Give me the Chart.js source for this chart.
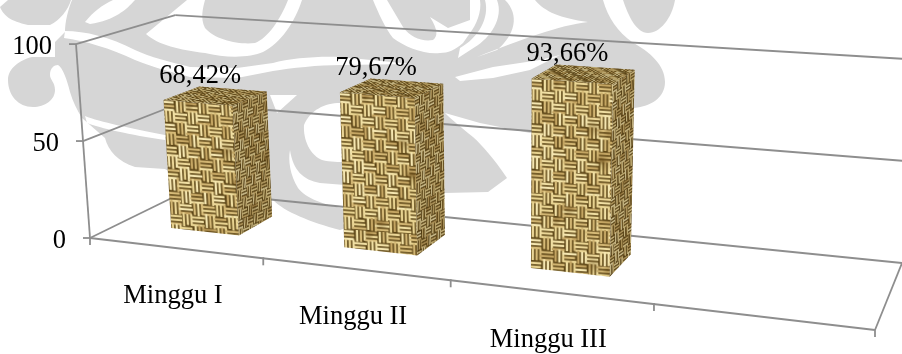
<!DOCTYPE html>
<html>
<head>
<meta charset="utf-8">
<style>html,body{margin:0;padding:0;background:#fff}canvas{display:block}</style>
<script src="https://cdn.jsdelivr.net/npm/chart.js@4"></script>
</head>
<body>
<canvas id="c" width="902" height="354"></canvas>
<script>
// Chart content
const categories = ['Minggu I', 'Minggu II', 'Minggu III', ''];
const percentages = [68.42, 79.67, 93.66, null];
const valueTexts = ['68,42%', '79,67%', '93,66%'];
const yTicks = [0, 50, 100];

// Floor of the tilted box: front-left, front-right, back-right, back-left
const floorCorners = [[90, 238], [875, 330], [902, 263], [186, 191]];
const barDepth = [0.31, 0.69];

const INK = '#000';
const GRID = '#8e8e8e';
const MARK_GRAY = '#d6d6d6';
const SERIF = '"Liberation Serif","Times New Roman",serif';

// Homography from the unit square onto a quadrilateral (p00, p10, p11, p01)
function quadMap(q) {
  const [[x0, y0], [x1, y1], [x2, y2], [x3, y3]] = q;
  const dx1 = x1 - x2, dx2 = x3 - x2, sx = x0 - x1 + x2 - x3;
  const dy1 = y1 - y2, dy2 = y3 - y2, sy = y0 - y1 + y2 - y3;
  const det = dx1 * dy2 - dx2 * dy1;
  const g = (sx * dy2 - dx2 * sy) / det, h = (dx1 * sy - sx * dy1) / det;
  const a = x1 - x0 + g * x1, b = x3 - x0 + h * x3, d = y1 - y0 + g * y1, e = y3 - y0 + h * y3;
  return (u, v) => {
    const w = g * u + h * v + 1;
    return [(a * u + b * v + x0) / w, (d * u + e * v + y0) / w];
  };
}
const floorAt = quadMap(floorCorners);

// Scale pixels -> position in the tilted box. depth 0 = front, 1 = back wall.
// Verticals grow with how near the floor point is and fan out from left to right.
function project(chart, px, py, depth) {
  const a = chart.chartArea;
  const u0 = (px - a.left) / (a.right - a.left);
  const u = u0 + 0.045 * u0 * (1 - u0);
  const t = (a.bottom - py) / (a.bottom - a.top);
  const f = floorAt(u, depth);
  const rise = 103 + 0.382 * f[1] - 14 * depth * (1 - depth);
  const lean = -14 + 0.0336 * (f[0] - 90);
  return [f[0] + lean * t, f[1] - rise * t];
}

function segment(ctx, p, q) {
  ctx.beginPath();
  ctx.moveTo(p[0], p[1]);
  ctx.lineTo(q[0], q[1]);
  ctx.stroke();
}

// Repeatable grain for the weave, fixed per strand position
function grain(i, j) {
  const s = Math.sin(i * 12.9898 + j * 78.233) * 43758.5453;
  return s - Math.floor(s);
}

// Woven sacking tile: tight strands in alternating basket blocks, softened afterwards
function wovenTile() {
  const S = 144, block = 12, pitch = 4;
  const raw = document.createElement('canvas');
  raw.width = raw.height = S;
  const g = raw.getContext('2d');
  g.fillStyle = '#5a4416';
  g.fillRect(0, 0, S, S);
  const tones = ['#fdf0bb', '#f3dfa0', '#dcc17e', '#f8e8ad', '#c9aa68', '#eeda98', '#d6ba78'];
  for (let bj = 0; bj < S / block; bj++) {
    for (let bi = 0; bi < S / block; bi++) {
      const horizontal = (bi + bj) % 2 === 0;
      const ox = bi * block, oy = bj * block;
      for (let k = 0; k < block / pitch; k++) {
        g.fillStyle = tones[Math.floor(grain(bi * 3 + k, bj) * tones.length)];
        const trim = 1 + 2 * grain(bi, bj + k);
        if (horizontal) {
          g.fillRect(ox - trim, oy + k * pitch + 0.7, block + 2 * trim - 2.5, pitch - 1.5);
        } else {
          g.fillRect(ox + k * pitch + 0.7, oy - trim, pitch - 1.5, block + 2 * trim - 2.5);
        }
      }
    }
  }
  // soft blotches so the cloth is not perfectly even
  for (let k = 0; k < 10; k++) {
    const cx = grain(k, 1) * S, cy = grain(k, 2) * S, rad = 4 + 7 * grain(k, 3);
    const grad = g.createRadialGradient(cx, cy, 0, cx, cy, rad);
    grad.addColorStop(0, 'rgba(95,65,15,0.35)');
    grad.addColorStop(1, 'rgba(95,65,15,0)');
    g.fillStyle = grad;
    g.fillRect(cx - rad, cy - rad, rad * 2, rad * 2);
  }
  const c = document.createElement('canvas');
  c.width = c.height = S;
  const h = c.getContext('2d');
  h.filter = 'blur(0.55px)';
  h.drawImage(raw, 0, 0);
  h.filter = 'none';
  return c;
}

// Paint one quadrilateral bar face with the tile laid along its edges
function face(ctx, pattern, q, sx, sy, shade) {
  const [tl, tr, br, bl] = q;
  ctx.save();
  ctx.beginPath();
  ctx.moveTo(tl[0], tl[1]);
  ctx.lineTo(tr[0], tr[1]);
  ctx.lineTo(br[0], br[1]);
  ctx.lineTo(bl[0], bl[1]);
  ctx.closePath();
  ctx.clip();
  const ux = tr[0] - tl[0], uy = tr[1] - tl[1], vx = bl[0] - tl[0], vy = bl[1] - tl[1];
  const lu = Math.hypot(ux, uy), lv = Math.hypot(vx, vy);
  ctx.save();
  ctx.transform(ux / lu * sx, uy / lu * sx, vx / lv * sy, vy / lv * sy, tl[0], tl[1]);
  ctx.fillStyle = pattern;
  ctx.fillRect(-20, -20, lu / sx + 60, lv / sy + 60);
  ctx.restore();
  if (shade) {
    ctx.fillStyle = shade;
    ctx.fillRect(0, 0, 902, 354);
  }
  ctx.restore();
}

// Ornamental backdrop, light gray with white cut-outs
const grayPaths = [
  'M0 7 C4 16 10 21 28 25 L50 25 C60 20 68 10 71 0 L8 0 Z',
  'M72 0 C68 10 65 22 65 32 L55 42 L55 57 L32 57 C20 60 8 68 8 80 C8 95 18 107 33 107 C45 107 55 100 55 90 C55 82 50 80 50 75 C50 68 54 65 58 65 C63 68 67 80 70 92 C73 102 77 110 82 118 L105 138 C108 150 118 162 135 167 L165 169 L210 195 L273 200 C285 212 310 222 340 230 L445 193 L488 192 L507 178 C495 160 483 146 473 137 C462 128 452 120 445 113 L480 123 L530 133 L633 108 C650 107 665 98 665 82 C665 65 650 52 632 42 C618 32 608 18 603 0 Z',
  'M623 0 C628 15 636 33 648 33 C660 33 672 18 675 0 Z'
];
const whitePaths = [
  // sweeping leaf near the left
  'M85 22 C93 12 102 5 113 0 L135 0 C126 10 115 20 90 24 Z',
  // U-shaped curl
  'M187 0 L146 34 C158 45 180 50 205 53 C225 58 250 58 263 52 C280 44 295 22 302 0 L288 0 C280 20 268 38 255 43 C240 45 215 40 205 28 C200 18 203 8 205 0 Z',
  // second curl
  'M373 0 L387 0 L403 27 C410 37 422 42 433 40 C438 36 438 30 430 17 L448 28 L470 20 L470 0 L480 0 C482 12 476 25 470 33 L463 43 C455 50 448 53 440 53 C425 55 405 47 393 38 C385 28 378 12 373 0 Z',
  // crescents at the centre
  'M485 0 L497 0 C504 18 490 38 475 47 L458 58 L460 48 C478 38 490 18 485 0 Z',
  'M505 0 L535 0 C545 12 560 18 588 22 C560 25 520 40 477 57 L497 50 C515 35 520 15 505 0 Z',
  // band across the upper middle, left part
  'M65 31 C85 31 110 37 135 50 C150 57 170 62 190 67 L237 68 L273 63 C290 58 320 56 340 57 L412 64 L340 65 C320 65 290 68 273 71 L237 78 L190 77 C170 72 150 66 135 60 C110 48 85 41 64 38 Z',
  // band, right part
  'M455 77 L493 67 L540 60 L560 55 L530 70 L493 78 L460 81 Z',
  // wedge beside the first bar
  'M270 95 L297 95 L277 113 Z',
  // disc and sliver
  'M340 103 C325 103 310 110 304 125 C303 140 310 155 322 160 C330 162 340 162 345 162 L345 103 Z',
  'M290 150 C293 170 303 180 320 183 L345 185 L345 209 C325 205 305 198 298 188 C290 175 288 160 290 150 Z',
  // sliver under the left lobe
  'M87 123 C100 128 130 135 165 140 L165 135 C130 128 100 122 85 116 Z'
];

const decorPlugin = {
  id: 'sackingScene',
  beforeDatasetsDraw(chart) {
    const ctx = chart.ctx;
    ctx.save();
    ctx.fillStyle = '#fff';
    ctx.fillRect(0, 0, chart.width, chart.height);
    ctx.fillStyle = MARK_GRAY;
    grayPaths.forEach(d => ctx.fill(new Path2D(d)));
    ctx.fillStyle = '#fff';
    whitePaths.forEach(d => ctx.fill(new Path2D(d)));
    ctx.restore();

    const y = chart.scales.y, a = chart.chartArea;
    ctx.save();
    ctx.strokeStyle = GRID;
    ctx.lineWidth = 1.8;
    // walls and value axis
    yTicks.forEach(v => {
      const py = y.getPixelForValue(v);
      const front = project(chart, a.left, py, 0);
      const back = project(chart, a.left, py, 1);
      const end = project(chart, a.right, py, 1);
      segment(ctx, [front[0] - 7, front[1]], front);
      segment(ctx, front, back);
      segment(ctx, back, end);
    });
    segment(ctx, project(chart, a.left, y.getPixelForValue(0), 0), project(chart, a.left, y.getPixelForValue(100), 0));
    // floor front and right edges
    const base = y.getPixelForValue(0);
    const fl = project(chart, a.left, base, 0);
    const fr = project(chart, a.right, base, 0);
    segment(ctx, fl, fr);
    segment(ctx, fr, project(chart, a.right, base, 1));
    // category separators along the front edge
    const slot = (a.right - a.left) / categories.length;
    for (let i = 0; i <= categories.length; i++) {
      const t = project(chart, a.left + i * slot, base, 0);
      segment(ctx, [t[0], t[1] - 1], [t[0], t[1] + 7]);
    }
    ctx.restore();

    // bars: geometry comes from the bar elements Chart.js laid out
    const pat = ctx.createPattern(wovenTile(), 'repeat');
    chart.getDatasetMeta(0).data.forEach((bar, i) => {
      if (percentages[i] == null) return;
      const l = bar.x - bar.width / 2, r = bar.x + bar.width / 2;
      const P = (px, py, d) => project(chart, px, py, d);
      const [d0, d1] = barDepth;
      const ftl = P(l, bar.y, d0), ftr = P(r, bar.y, d0), fbl = P(l, bar.base, d0), fbr = P(r, bar.base, d0);
      const btl = P(l, bar.y, d1), btr = P(r, bar.y, d1), bbr = P(r, bar.base, d1);
      face(ctx, pat, [ftl, ftr, fbr, fbl], 0.95, 0.95, 'rgba(120,85,25,0.06)');
      face(ctx, pat, [ftr, btr, bbr, fbr], 0.45, 0.8, 'rgba(60,40,5,0.30)');
      face(ctx, pat, [btl, btr, ftr, ftl], 0.8, 0.4, 'rgba(70,50,10,0.34)');
    });
  },
  afterDatasetsDraw(chart) {
    const ctx = chart.ctx, y = chart.scales.y, a = chart.chartArea;
    ctx.save();
    ctx.fillStyle = INK;
    ctx.font = '26.5px ' + SERIF;
    ctx.textBaseline = 'alphabetic';
    // value axis numbers
    ctx.textAlign = 'right';
    yTicks.forEach(v => {
      const p = project(chart, a.left, y.getPixelForValue(v), 0);
      ctx.fillText(String(v), p[0] - 24, p[1] + 10);
    });
    // week names under the front edge
    ctx.textAlign = 'center';
    const base = y.getPixelForValue(0);
    categories.forEach((name, i) => {
      const p = project(chart, chart.scales.x.getPixelForValue(i), base, 0);
      if (name) ctx.fillText(name, p[0] - 2, p[1] + 55);
    });
    // percentage captions above each bar, drifting left towards the right of the chart
    chart.getDatasetMeta(0).data.forEach((bar, i) => {
      if (percentages[i] == null) return;
      const l = project(chart, bar.x - bar.width / 2, bar.y, barDepth[0]);
      const r = project(chart, bar.x + bar.width / 2, bar.y, barDepth[0]);
      const cx = (l[0] + r[0]) / 2;
      ctx.fillText(valueTexts[i], cx + 2 - 0.0187 * (cx - 200), l[1] - 17);
    });
    ctx.restore();
  }
};

new Chart(document.getElementById('c'), {
  type: 'bar',
  data: {
    labels: categories,
    datasets: [{
      data: percentages,
      backgroundColor: 'rgba(0,0,0,0)',
      borderWidth: 0,
      barPercentage: 0.4,
      categoryPercentage: 1
    }]
  },
  options: {
    responsive: false,
    animation: false,
    layout: { padding: 0 },
    plugins: { legend: { display: false }, tooltip: { enabled: false } },
    scales: {
      x: { display: false },
      y: { display: false, min: 0, max: 100 }
    }
  },
  plugins: [decorPlugin]
});
</script>
</body>
</html>
